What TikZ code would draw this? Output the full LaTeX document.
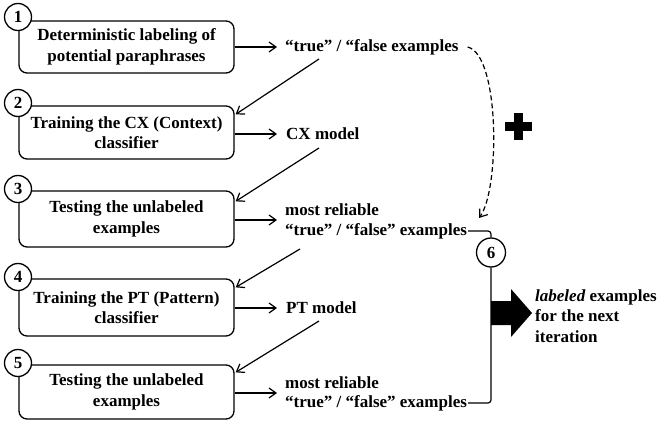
\documentclass[tikz,border=0pt]{standalone}
\usepackage{fontspec}
\setmainfont{Liberation Serif}
\usetikzlibrary{arrows.meta}
\begin{document}
\begin{tikzpicture}[x=1pt,y=-1pt,
  txt/.style={font=\fontsize{17}{20.5}\selectfont\bfseries},
  stepbox/.style={txt,draw,line width=1.3pt,rounded corners=8pt,minimum width=215pt,align=center,inner sep=0pt},
  numc/.style={txt,draw,line width=1.3pt,circle,fill=white,minimum size=27pt,inner sep=0pt},
  outt/.style={txt,anchor=west,inner sep=0pt},
  conn/.style={line width=1.2pt,-{Straight Barb[length=7pt,width=10pt,line width=1.2pt]}},
  plain/.style={line width=1.2pt}
]
\useasboundingbox (0,0) rectangle (661,422);
% boxes
\node[stepbox,minimum height=52pt] (box1) at (126.5,47) {Deterministic labeling of\\potential paraphrases};
\node[stepbox,minimum height=53pt] (box2) at (126.5,132.5) {Training the CX (Context)\\classifier};
\node[stepbox,minimum height=56pt] (box3) at (126.5,219) {Testing the unlabeled\\examples};
\node[stepbox,minimum height=57pt] (box4) at (126.5,307.5) {Training the PT (Pattern)\\classifier};
\node[stepbox,minimum height=54pt] (box5) at (126.5,392) {Testing the unlabeled\\examples};
% number circles
\node[numc] (c1) at (18,17) {1};
\node[numc] (c2) at (18,103) {2};
\node[numc] (c3) at (18,189) {3};
\node[numc] (c4) at (18,277) {4};
\node[numc] (c5) at (18,363) {5};
% outputs
\node[outt] (out1) at (285,47) {“true” / “false examples};
\node[outt] (out2) at (286,134) {CX model};
\node[outt] (out3a) at (285,210) {most reliable};
\node[outt] (out3b) at (285,231) {“true” / “false” examples};
\node[outt] (out4) at (286,308) {PT model};
\node[outt] (out5a) at (285,383) {most reliable};
\node[outt] (out5b) at (285,403) {“true” / “false” examples};
\node[numc,minimum size=29pt] (c6) at (491,252.5) {6};
\node[txt,anchor=west,align=left,inner sep=0pt] (lab) at (535,316) {\textit{labeled} examples\\for the next\\iteration};
% horizontal arrows
\coordinate (h1) at (277,47);
\coordinate (h2) at (277,134);
\coordinate (h3) at (277,220);
\coordinate (h4) at (277,308);
\coordinate (h5) at (277,393);
\draw[conn] (box1.east |- h1) -- (h1);
\draw[conn] (box2.east |- h2) -- (h2);
\draw[conn] (box3.east |- h3) -- (h3);
\draw[conn] (box4.east |- h4) -- (h4);
\draw[conn] (box5.east |- h5) -- (h5);
% diagonal arrows
\coordinate (d1) at (319,59);
\coordinate (d2) at (319,148);
\coordinate (d3) at (300,249);
\coordinate (d4) at (319,321);
\draw[conn] (d1) -- ([xshift=1pt,yshift=-9pt]box2.north east);
\draw[conn] (d2) -- ([xshift=1pt,yshift=-11pt]box3.north east);
\draw[conn] (d3) -- ([xshift=1pt,yshift=-9pt]box4.north east);
\draw[conn] (d4) -- ([xshift=1pt,yshift=-8pt]box5.north east);
% dashed feedback
\coordinate (dend) at (479,218);
\draw[conn,dash pattern=on 5pt off 3pt] ([xshift=9pt]out1.east) .. controls (500,55) and (500,190) .. (dend);
% links to 6
\draw[plain,rounded corners=3pt] ([xshift=1pt]out3b.east) -| (c6.north);
\draw[plain,rounded corners=3pt] ([xshift=1pt]out5b.east) -| (c6.south);
% big arrow
\fill (491,301) -- (511,301) -- (511,289) -- (532,313) -- (511,337) -- (511,325) -- (491,325) -- cycle;
% plus
\fill (505,122) rectangle (532,131);
\fill (514,113) rectangle (523,140);
\end{tikzpicture}
\end{document}
